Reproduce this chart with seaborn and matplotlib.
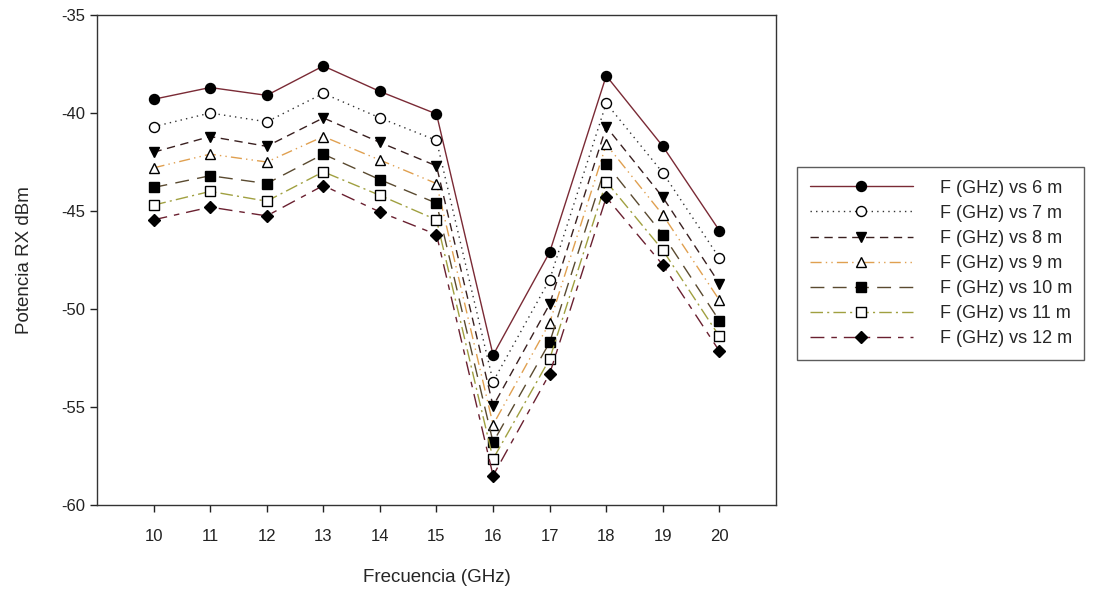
import matplotlib
matplotlib.use("Agg")
import matplotlib.pyplot as plt
import seaborn as sns
import pandas as pd

freq = [10, 11, 12, 13, 14, 15, 16, 17, 18, 19, 20]
s6 = [-39.3, -38.7, -39.1, -37.6, -38.9, -40.05, -52.35, -47.1, -38.1, -41.7, -46.0]
s7 = [-40.7, -40.0, -40.45, -39.0, -40.25, -41.4, -53.7, -48.5, -39.5, -43.05, -47.4]
s8 = [-42.0, -41.2, -41.7, -40.25, -41.5, -42.7, -54.95, -49.75, -40.7, -44.3, -48.7]
s9 = [-42.8, -42.1, -42.5, -41.2, -42.4, -43.6, -55.9, -50.7, -41.6, -45.2, -49.55]
s10 = [-43.8, -43.2, -43.6, -42.1, -43.4, -44.6, -56.8, -51.7, -42.6, -46.2, -50.6]
s11 = [-44.7, -44.0, -44.5, -43.0, -44.2, -45.45, -57.65, -52.55, -43.5, -47.0, -51.4]
s12 = [-45.45, -44.8, -45.25, -43.7, -45.05, -46.2, -58.5, -53.3, -44.3, -47.75, -52.15]
labels = ["F (GHz) vs 6 m", "F (GHz) vs 7 m", "F (GHz) vs 8 m", "F (GHz) vs 9 m",
          "F (GHz) vs 10 m", "F (GHz) vs 11 m", "F (GHz) vs 12 m"]
yticks = [-60, -55, -50, -45, -40, -35]

series = [s6, s7, s8, s9, s10, s11, s12]
styles = [
    dict(color="#7a2a35", ls="-", marker="o", mfc="black"),
    dict(color="#333333", ls=(0, (1, 3)), marker="o", mfc="white"),
    dict(color="#3a2020", ls=(0, (6, 4)), marker="v", mfc="black"),
    dict(color="#e0a050", ls=(0, (8, 3, 1, 3, 1, 3)), marker="^", mfc="white"),
    dict(color="#5a4a30", ls=(0, (10, 6)), marker="s", mfc="black"),
    dict(color="#a0a040", ls=(0, (9, 3, 1.5, 3)), marker="s", mfc="white"),
    dict(color="#6a2030", ls=(0, (10, 5, 4, 5)), marker="D", mfc="black"),
]

sns.set_style("ticks")
plt.rcParams['font.family'] = ['Liberation Sans', 'DejaVu Sans']
plt.rcParams['axes.unicode_minus'] = False

fig = plt.figure(figsize=(10.97, 5.90), dpi=100)
ax = fig.add_axes([0.0884, 0.144, 0.619, 0.8306])

for vals, lab, st in zip(series, labels, styles):
    df = pd.DataFrame({"f": freq, "p": vals})
    ms = 6.5 if st["marker"] == "D" else 7.2
    sns.lineplot(data=df, x="f", y="p", ax=ax, color=st["color"], linestyle=st["ls"],
                 linewidth=1.0, marker=st["marker"], markersize=ms,
                 markerfacecolor=st["mfc"], markeredgecolor="black",
                 markeredgewidth=1.0, label=lab)

ax.set_xlim(9, 21)
ax.set_ylim(-60, -35)
ax.set_xticks(freq)
ax.set_yticks(yticks)
ax.tick_params(labelsize=12, direction="out", length=5, width=1, colors="#222222")
ax.tick_params(axis="x", pad=12)
for sp in ax.spines.values():
    sp.set_linewidth(1.0)
    sp.set_color("#333333")
    sp.set_visible(True)
ax.set_xlabel("Frecuencia (GHz)", fontsize=13.5, labelpad=18)
ax.set_ylabel("Potencia RX dBm", fontsize=13.5, labelpad=20)

leg = ax.legend(loc="upper left", bbox_to_anchor=(0.7265, 0.717), bbox_transform=fig.transFigure,
                fontsize=13, frameon=True, fancybox=False, handlelength=5.7,
                handletextpad=1.5, borderpad=0.7, labelspacing=0.45, borderaxespad=0)
leg.get_frame().set_edgecolor("#333333")
leg.get_frame().set_linewidth(1.0)

fig.savefig("out.png", dpi=100, facecolor="white")
